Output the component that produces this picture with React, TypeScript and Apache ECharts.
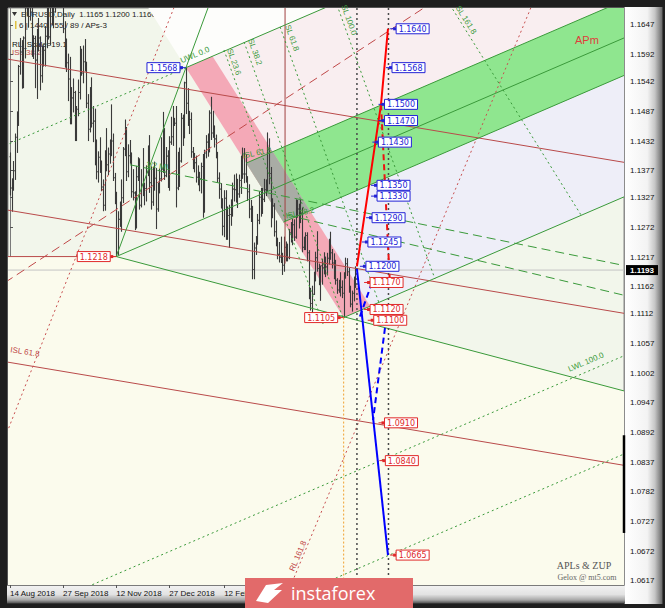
import React, { useEffect, useRef } from "react";
import * as echarts from "echarts";

// EURUSD daily bars, 14 Aug 2018 .. 3 Jun 2019 — [open, high, low, close]
const bars: number[][] = [
  // Aug 2018
  [1.1403, 1.1411, 1.1331, 1.1345], [1.1345, 1.1363, 1.1301, 1.1345], [1.1345, 1.1395, 1.134, 1.1377],
  [1.1377, 1.1446, 1.136, 1.1439], [1.1439, 1.1487, 1.141, 1.1478], [1.1478, 1.1573, 1.146, 1.157],
  [1.157, 1.1623, 1.1555, 1.1597], [1.1597, 1.1619, 1.1529, 1.1538], [1.1538, 1.1626, 1.153, 1.1623],
  [1.1623, 1.1686, 1.1585, 1.1679], [1.1679, 1.1733, 1.1664, 1.17], [1.17, 1.1714, 1.1642, 1.1706],
  [1.1706, 1.1716, 1.1655, 1.1671], [1.1671, 1.168, 1.1588, 1.1602],
  // Sep 2018
  [1.1602, 1.1628, 1.1584, 1.1622], [1.1622, 1.1627, 1.153, 1.1582], [1.1582, 1.164, 1.151, 1.1628],
  [1.1628, 1.166, 1.1598, 1.1623], [1.1623, 1.1626, 1.1526, 1.1553], [1.1553, 1.1609, 1.154, 1.1594],
  [1.1594, 1.1609, 1.157, 1.16], [1.16, 1.1645, 1.157, 1.1626], [1.1626, 1.1701, 1.1604, 1.169],
  [1.169, 1.1722, 1.162, 1.1625], [1.1625, 1.1698, 1.161, 1.1684], [1.1684, 1.1698, 1.1646, 1.1672],
  [1.1672, 1.1701, 1.1641, 1.1671], [1.1671, 1.1788, 1.167, 1.1776], [1.1776, 1.179, 1.1737, 1.1745],
  [1.1745, 1.1815, 1.1734, 1.1748], [1.1748, 1.1796, 1.1724, 1.1765], [1.1765, 1.1797, 1.1719, 1.1739],
  [1.1739, 1.1752, 1.1632, 1.164], [1.164, 1.1654, 1.1568, 1.1604],
  // Oct 2018
  [1.1604, 1.1622, 1.156, 1.1577], [1.1577, 1.1594, 1.1506, 1.1547], [1.1547, 1.1588, 1.1463, 1.1478],
  [1.1478, 1.1532, 1.1463, 1.1512], [1.1512, 1.1548, 1.1485, 1.1522], [1.1522, 1.1525, 1.1432, 1.1489],
  [1.1489, 1.1497, 1.1432, 1.1491], [1.1491, 1.1546, 1.1478, 1.1522], [1.1522, 1.1608, 1.1509, 1.1596],
  [1.1596, 1.1603, 1.1553, 1.1558], [1.1558, 1.1609, 1.1539, 1.1579], [1.1579, 1.1621, 1.1561, 1.1573],
  [1.1573, 1.1579, 1.1493, 1.1502], [1.1502, 1.1519, 1.1432, 1.1454], [1.1454, 1.1532, 1.1448, 1.1515],
  [1.1515, 1.155, 1.1457, 1.1465], [1.1465, 1.1497, 1.143, 1.1469], [1.1469, 1.1492, 1.1387, 1.1391],
  [1.1391, 1.1435, 1.1361, 1.1375], [1.1375, 1.1413, 1.1355, 1.1402], [1.1402, 1.1439, 1.1373, 1.1375],
  [1.1375, 1.1396, 1.1339, 1.1347], [1.1347, 1.1361, 1.1302, 1.1313],
  // Nov 2018
  [1.1313, 1.1415, 1.1303, 1.1406], [1.1406, 1.1456, 1.1376, 1.1388], [1.1388, 1.142, 1.1369, 1.1408],
  [1.1408, 1.1435, 1.139, 1.1428], [1.1428, 1.15, 1.1404, 1.1432], [1.1432, 1.1446, 1.1358, 1.1364],
  [1.1364, 1.1373, 1.1315, 1.1334], [1.1334, 1.1338, 1.1218, 1.1226], [1.1226, 1.1302, 1.1221, 1.1287],
  [1.1287, 1.132, 1.1273, 1.1313], [1.1313, 1.1361, 1.1264, 1.1327], [1.1327, 1.1421, 1.1317, 1.1417],
  [1.1417, 1.1472, 1.1404, 1.1456], [1.1456, 1.1458, 1.1358, 1.1375], [1.1375, 1.1426, 1.1365, 1.1405],
  [1.1405, 1.1434, 1.139, 1.1403], [1.1403, 1.1411, 1.1327, 1.1338], [1.1338, 1.138, 1.1322, 1.1336],
  [1.1336, 1.1339, 1.1267, 1.129], [1.129, 1.1386, 1.127, 1.1366], [1.1366, 1.1402, 1.1358, 1.1393],
  [1.1393, 1.14, 1.1305, 1.1313],
  // Dec 2018
  [1.1313, 1.138, 1.1309, 1.1352], [1.1352, 1.1419, 1.133, 1.1343], [1.1343, 1.1355, 1.1313, 1.1344],
  [1.1344, 1.1387, 1.132, 1.1374], [1.1374, 1.1424, 1.1367, 1.1405], [1.1405, 1.1443, 1.1336, 1.1355],
  [1.1355, 1.1385, 1.1305, 1.1319], [1.1319, 1.1384, 1.1312, 1.1369], [1.1369, 1.1394, 1.134, 1.1363],
  [1.1363, 1.1382, 1.1269, 1.1306], [1.1306, 1.1355, 1.1301, 1.1346], [1.1346, 1.1381, 1.1335, 1.1362],
  [1.1362, 1.1439, 1.1357, 1.138], [1.138, 1.1486, 1.1373, 1.1451], [1.1451, 1.1456, 1.136, 1.1368],
  [1.1368, 1.1421, 1.1365, 1.1404], [1.1404, 1.1415, 1.1345, 1.1352], [1.1352, 1.1441, 1.134, 1.143],
  [1.143, 1.1477, 1.1425, 1.144], [1.144, 1.1497, 1.1423, 1.1467],
  // Jan 2019
  [1.1467, 1.1475, 1.146, 1.1465], [1.1465, 1.1497, 1.1309, 1.1345], [1.1345, 1.1412, 1.1341, 1.1393],
  [1.1393, 1.142, 1.1347, 1.1395], [1.1395, 1.1484, 1.1392, 1.1474], [1.1474, 1.1481, 1.1423, 1.144],
  [1.144, 1.1542, 1.1437, 1.154], [1.154, 1.1568, 1.1482, 1.1502], [1.1502, 1.153, 1.146, 1.1468],
  [1.1468, 1.1488, 1.1445, 1.1472], [1.1472, 1.1485, 1.1401, 1.1412], [1.1412, 1.1421, 1.138, 1.1394],
  [1.1394, 1.141, 1.1374, 1.1392], [1.1392, 1.1405, 1.1355, 1.1365], [1.1365, 1.1387, 1.135, 1.1362],
  [1.1362, 1.1375, 1.1339, 1.1362], [1.1362, 1.1392, 1.1335, 1.1385], [1.1385, 1.1408, 1.129, 1.13],
  [1.13, 1.1416, 1.13, 1.141], [1.141, 1.1443, 1.14, 1.143], [1.143, 1.1446, 1.1403, 1.1431],
  [1.1431, 1.1489, 1.1411, 1.1484], [1.1484, 1.1514, 1.1434, 1.1447],
  // Feb 2019
  [1.1447, 1.1488, 1.1438, 1.1456], [1.1456, 1.1461, 1.142, 1.1436], [1.1436, 1.1444, 1.14, 1.1406],
  [1.1406, 1.1412, 1.1355, 1.1363], [1.1363, 1.1374, 1.1325, 1.1343], [1.1343, 1.1354, 1.1307, 1.1324],
  [1.1324, 1.1326, 1.1257, 1.1274], [1.1274, 1.1341, 1.1254, 1.1326], [1.1326, 1.1341, 1.1249, 1.1265],
  [1.1265, 1.1311, 1.1249, 1.1294], [1.1294, 1.1314, 1.1234, 1.1296], [1.1296, 1.1324, 1.1275, 1.1311],
  [1.1311, 1.1355, 1.1292, 1.1343], [1.1343, 1.137, 1.132, 1.1342], [1.1342, 1.1372, 1.1318, 1.1336],
  [1.1336, 1.1362, 1.1308, 1.1334], [1.1334, 1.137, 1.1327, 1.1359], [1.1359, 1.1405, 1.1334, 1.1395],
  [1.1395, 1.142, 1.1362, 1.1371], [1.1371, 1.1419, 1.1354, 1.1371],
  // Mar 2019
  [1.1371, 1.1408, 1.1355, 1.1363], [1.1363, 1.1367, 1.1321, 1.1338], [1.1338, 1.1352, 1.1289, 1.1306],
  [1.1306, 1.1323, 1.1282, 1.1306], [1.1306, 1.1312, 1.1176, 1.1194], [1.1194, 1.1244, 1.1176, 1.1234],
  [1.1234, 1.1256, 1.1221, 1.1246], [1.1246, 1.1297, 1.124, 1.1285], [1.1285, 1.1339, 1.1278, 1.1328],
  [1.1328, 1.1345, 1.1292, 1.1306], [1.1306, 1.1345, 1.1297, 1.1324], [1.1324, 1.1362, 1.1319, 1.1342],
  [1.1342, 1.1361, 1.133, 1.1351], [1.1351, 1.1448, 1.1338, 1.1417], [1.1417, 1.1437, 1.1352, 1.1372],
  [1.1372, 1.1384, 1.1272, 1.1299], [1.1299, 1.1326, 1.1289, 1.1312], [1.1312, 1.1317, 1.1255, 1.1264],
  [1.1264, 1.1285, 1.1237, 1.1247], [1.1247, 1.1253, 1.1213, 1.1222], [1.1222, 1.1245, 1.1207, 1.1217],
  // Apr 2019
  [1.1217, 1.1255, 1.1206, 1.1216], [1.1216, 1.1225, 1.1184, 1.1202], [1.1202, 1.1255, 1.119, 1.1235],
  [1.1235, 1.1246, 1.1209, 1.122], [1.122, 1.1242, 1.1209, 1.1216], [1.1216, 1.1269, 1.1213, 1.1262],
  [1.1262, 1.1282, 1.1244, 1.1264], [1.1264, 1.1288, 1.1239, 1.1277], [1.1277, 1.1287, 1.1247, 1.1254],
  [1.1254, 1.1324, 1.1251, 1.1301], [1.1301, 1.1323, 1.129, 1.1306], [1.1306, 1.1316, 1.127, 1.1283],
  [1.1283, 1.1324, 1.128, 1.1298], [1.1298, 1.1309, 1.1226, 1.1235], [1.1235, 1.1255, 1.123, 1.1245],
  [1.1245, 1.1263, 1.123, 1.1257], [1.1257, 1.1263, 1.1209, 1.1225], [1.1225, 1.123, 1.1139, 1.1154],
  [1.1154, 1.116, 1.1118, 1.1131], [1.1131, 1.1164, 1.1112, 1.1148], [1.1148, 1.119, 1.1147, 1.1184],
  [1.1184, 1.1227, 1.1172, 1.1216],
  // May 2019
  [1.1216, 1.1265, 1.119, 1.1196], [1.1196, 1.1205, 1.1165, 1.1171], [1.1171, 1.1201, 1.1136, 1.1201],
  [1.1201, 1.1214, 1.1166, 1.1197], [1.1197, 1.1226, 1.1185, 1.1193], [1.1193, 1.1218, 1.118, 1.1199],
  [1.1199, 1.1225, 1.1183, 1.1215], [1.1215, 1.1251, 1.1203, 1.1235], [1.1235, 1.1264, 1.1212, 1.1225],
  [1.1225, 1.1232, 1.1196, 1.1206], [1.1206, 1.1224, 1.1176, 1.1203], [1.1203, 1.1212, 1.1166, 1.1174],
  [1.1174, 1.1178, 1.1149, 1.1156], [1.1156, 1.1175, 1.1151, 1.1163], [1.1163, 1.1189, 1.1144, 1.1161],
  [1.1161, 1.1174, 1.1141, 1.115], [1.115, 1.1189, 1.1105, 1.118], [1.118, 1.1216, 1.1177, 1.1205],
  [1.1205, 1.1215, 1.1182, 1.119], [1.119, 1.1197, 1.1151, 1.116], [1.116, 1.1164, 1.1124, 1.113],
  [1.113, 1.1155, 1.1116, 1.115], [1.115, 1.1181, 1.1135, 1.1169],
  // Jun 2019
  [1.1165, 1.12, 1.116, 1.1193],
];

// time axis labels (bar index -> date)
const dateTickIndex = [0, 32, 64, 96, 129];
const dateTickText = ["14 Aug 2018", "27 Sep 2018", "12 Nov 2018", "27 Dec 2018", "12 Feb 2019"];

// price scale labels
const priceTicks = [
  1.1647, 1.1592, 1.1542, 1.1487, 1.1432, 1.1377, 1.1327, 1.1272, 1.1217, 1.1162,
  1.1112, 1.1057, 1.1002, 1.0947, 1.0892, 1.0837, 1.0782, 1.0727, 1.0672, 1.0617,
];

// pitchfork pivots [bar, price]
const pivot1 = [64, 1.1218];
const pivot2 = [106, 1.1568];
const pivot3 = [201, 1.1105];
const pivotHighs = [pivot2];
const pivotLows = [pivot1, pivot3];

// descending channel (solid red), [bar, price] end points
const channelLines = [
  [[-3, 1.15846], [372, 1.13915]],
  [[-3, 1.13049], [372, 1.11118]],
  [[-3, 1.10233], [372, 1.08302]],
];
const levelLine = [[[-3, 1.1218], [64, 1.1218]]];
const timeMark = [[[165.7, 1.169], [165.7, 1.1205]]];
const redDashLines = [[[-3, 1.117], [251, 1.1682]]];
const redDotLines = [
  [[-3, 1.0883], [99, 1.1681]],
  [[170, 1.0615], [315, 1.1688]],
];

// sliding lines (green dotted) and half-median lines (green dashed)
const slidingLines = [
  [[128.9, 1.16007], [188.6, 1.10931]],
  [[141.0, 1.16155], [200.6, 1.11042]],
  [[162.7, 1.16433], [222.3, 1.1132]],
  [[197.0, 1.16841], [256.0, 1.11765]],
  [[265.1, 1.16841], [344.0, 1.1295]],
];
const halfLines = [
  [[72.3, 1.1388], [369, 1.1202]],
  [[166.9, 1.1295], [369, 1.1147]],
];
const p1Descent = [370, 1.0969];

// ZUP projections
const futureBars = [209, 228];
const zupUp = [[209, 1.12], [223.5, 1.15], [227.7, 1.164]];
const zupUpBack = [[223.5, 1.15], [229, 1.116]];
const zupDown = [[209, 1.1195], [227.7, 1.0665]];
const zupDownBack = [
  [[210.8, 1.1107], [218.1, 1.117]],
  [[225.9, 1.1086], [218.7, 1.0915]],
];
const upTargets = [
  [229, 1.164], [226.5, 1.1568], [222, 1.15], [222, 1.147], [218.3, 1.143],
  [217.5, 1.135], [217.5, 1.133], [214.5, 1.129], [212, 1.1245], [210.8, 1.12],
];
const downTargets = [
  [213.3, 1.117], [213.3, 1.112], [215.5, 1.11], [222, 1.091], [222.5, 1.084], [229, 1.0665],
];
const axisMarker = [[[369.88, 1.0887], [369.88, 1.0706]]];

const forkNotes = [
  { at: [111.4, 1.15914], text: "UWL 0.0", angle: 23 },
  { at: [347.0, 1.10227], text: "LWL 100.0", angle: 23 },
  { at: [89.2, 1.13858], text: "1/2 ML", angle: -8 },
  { at: [148.8, 1.14099], text: "ISL 61.8", angle: 12 },
  { at: [174.7, 1.12987], text: "ISL 38.2", angle: 12 },
  { at: [134.9, 1.15785], text: "SL 23.6", angle: -70 },
  { at: [147.6, 1.1597], text: "SL 38.2", angle: -70 },
  { at: [169.9, 1.16229], text: "SL 61.8", angle: -70 },
  { at: [204.2, 1.16563], text: "SL 100.0", angle: -70 },
  { at: [274.7, 1.16563], text: "SL 161.8", angle: -58 },
];
const channelNotes = [
  { at: [9.0, 1.10412], text: "ISL 61.8", angle: -9 },
  { at: [173.5, 1.06633], text: "RL 161.8", angle: 67 },
];

// ---- scales ----
const X_MIN = -1.205;
const X_MAX = 369.88;
const Y_MIN = 1.060958;
const Y_MAX = 1.167849;
const FAR = 420;

// ---- pitchfork geometry ----
const mid = [(pivot2[0] + pivot3[0]) / 2, (pivot2[1] + pivot3[1]) / 2];
const forkSlope = (mid[1] - pivot1[1]) / (mid[0] - pivot1[0]);
const forkHalf = pivot2[1] - (pivot1[1] + forkSlope * (pivot2[0] - pivot1[0]));
const forkAt = (f: number, i: number) => pivot1[1] + forkSlope * (i - pivot1[0]) + f * forkHalf;
const ctrlAt = (t: number) => [pivot2[0] + t * (pivot3[0] - pivot2[0]), pivot2[1] + t * (pivot3[1] - pivot2[1])];
const startOf = (f: number) => ctrlAt((1 - f) / 2);
const bandLevel = 0.236;
const warningLevels = [-2, -2.618];
const pinkShift = 16;
const shift = (p: number[]) => [p[0] + pinkShift, p[1] + pinkShift * forkSlope];
const farOf = (f: number) => [FAR, forkAt(f, FAR)];

const topEdge = ctrlAt(-0.35);
const topCross = [pivot1[0] + (topEdge[1] - pivot1[1] - forkHalf) / forkSlope, topEdge[1]];
const p1p2Slope = (pivot2[1] - pivot1[1]) / (pivot2[0] - pivot1[0]);
const p1p2Top = [pivot2[0] + (1.169 - pivot2[1]) / p1p2Slope, 1.169];

const zones = [
  { pts: [pivot1, p1Descent, [p1Descent[0], 1.0], [-3, 1.0], [-3, pivot1[1]]], color: "#fbfbed" },
  { pts: [pivot2, topEdge, topCross], color: "#fdfdfb" },
  { pts: [pivot2, farOf(1), farOf(0), mid], color: "#f9eef0" },
  { pts: [mid, farOf(0), farOf(-1), pivot3], color: "#eeeef8" },
  { pts: [startOf(bandLevel), farOf(bandLevel), farOf(-bandLevel), startOf(-bandLevel)], color: "#8fe68f" },
  { pts: [pivot2, shift(pivot2), shift(pivot3), pivot3], color: "#f4a9b7" },
  { pts: [startOf(bandLevel), shift(startOf(bandLevel)), shift(startOf(-bandLevel)), startOf(-bandLevel)], color: "#a9aca5" },
];

const GREEN = "#3a9a3a";
const RED = "#b94a4a";
const FONT = '8px "Liberation Sans"';

const pathSeries = (paths: number[][][], stroke: string, lineWidth: number, lineDash: number[] | null, z: number, clip = true) => ({
  type: "custom",
  silent: true,
  clip,
  z,
  data: paths.map((p) => p.flat()),
  encode: { x: 0, y: 1 },
  renderItem: (params: any, api: any) => {
    const points = paths[params.dataIndex].map((p) => api.coord(p));
    const style: any = { stroke, lineWidth, fill: "none" };
    if (lineDash) style.lineDash = lineDash;
    return { type: "polyline", shape: { points }, style };
  },
});

const tagSeries = (anchors: number[][], color: string, side: "left" | "right", z: number) => ({
  type: "custom",
  silent: true,
  clip: false,
  z,
  data: anchors,
  encode: { x: 0, y: 1 },
  renderItem: (params: any, api: any) => {
    const price = api.value(1);
    const [x, y] = api.coord([api.value(0), price]);
    const w = 33;
    const bx = side === "right" ? x + 6 : x - 6 - w;
    const edge = side === "right" ? bx : bx + w;
    return {
      type: "group",
      children: [
        { type: "line", shape: { x1: x, y1: y, x2: edge, y2: y }, style: { stroke: color, lineWidth: 1 } },
        { type: "rect", shape: { x: side === "right" ? bx - 3 : bx + w, y: y - 1.5, width: 3, height: 3 }, style: { fill: color } },
        { type: "rect", shape: { x: bx, y: y - 5, width: w, height: 10 }, style: { fill: "#ffffff", stroke: color, lineWidth: 1 } },
        {
          type: "text", x: bx + w / 2, y: y + 0.5,
          style: { text: price.toFixed(4), fill: color, font: '8px "DejaVu Sans"', align: "center", verticalAlign: "middle" },
        },
      ],
    };
  },
});

const noteSeries = (notes: { at: number[]; text: string; angle: number }[], color: string, z: number) => ({
  type: "custom",
  silent: true,
  clip: false,
  z,
  data: notes.map((n) => n.at),
  encode: { x: 0, y: 1 },
  renderItem: (params: any, api: any) => {
    const n = notes[params.dataIndex];
    const [x, y] = api.coord(n.at);
    return {
      type: "text", x, y, rotation: (n.angle * Math.PI) / 180,
      style: { text: n.text, fill: color, font: FONT, align: "center", verticalAlign: "middle" },
    };
  },
});

function buildOption() {
  const last = bars[bars.length - 1];
  const lastClose = last[3];
  const headline = "EURUSD,Daily  " + last.map((v) => v.toFixed(4)).join(" ");

  const series: any[] = [
    {
      type: "custom", silent: true, clip: true, z: 1,
      data: zones.map((_, k) => [k]),
      encode: { x: 0, y: 0 },
      renderItem: (params: any, api: any) => {
        const zone = zones[params.dataIndex];
        return { type: "polygon", shape: { points: zone.pts.map((p) => api.coord(p)) }, style: { fill: zone.color } };
      },
    },
    {
      type: "custom", silent: true, clip: true, z: 3,
      data: bars.map((b, i) => [i, ...b]),
      encode: { x: 0, y: [1, 2, 3, 4] },
      renderItem: (params: any, api: any) => {
        const i = api.value(0);
        const o = api.coord([i, api.value(1)]);
        const h = api.coord([i, api.value(2)]);
        const l = api.coord([i, api.value(3)]);
        const c = api.coord([i, api.value(4)]);
        const x = Math.round(o[0]) + 0.5;
        const st = { stroke: "#3a3a3a", lineWidth: 1.1 };
        return {
          type: "group",
          children: [
            { type: "line", shape: { x1: x, y1: h[1], x2: x, y2: l[1] }, style: st },
            { type: "line", shape: { x1: x - 1, y1: o[1], x2: x, y2: o[1] }, style: st },
            { type: "line", shape: { x1: x, y1: c[1], x2: x + 1, y2: c[1] }, style: st },
          ],
        };
      },
    },
    // current price line
    pathSeries([[[-3, lastClose], [FAR, lastClose]]], "#c4c4c4", 1, null, 2),
    // red channel
    pathSeries(channelLines, RED, 1, null, 4),
    pathSeries(levelLine, RED, 1, null, 4),
    pathSeries(timeMark, "#a04040", 1, null, 4),
    pathSeries(redDashLines, "#c04848", 1, [9, 5], 4),
    pathSeries(redDotLines, "#c85050", 1, [2, 3], 4),
    // pitchfork (green)
    pathSeries(
      [
        [pivot1, farOf(0)],
        [pivot2, farOf(1)],
        [pivot3, farOf(-1)],
        [startOf(bandLevel), farOf(bandLevel)],
        [startOf(-bandLevel), farOf(-bandLevel)],
        [pivot1, p1p2Top],
        [pivot1, p1Descent],
      ],
      GREEN, 1, null, 4
    ),
    pathSeries(
      [[[-3, forkAt(1, -3)], pivot2], ...warningLevels.map((f) => [[-3, forkAt(f, -3)], farOf(f)])],
      GREEN, 1, [2, 3], 4
    ),
    pathSeries(slidingLines, GREEN, 1, [2, 3], 4),
    pathSeries(halfLines, GREEN, 1, [9, 5], 4),
    // projection time lines
    pathSeries(futureBars.map((b) => [[b, Y_MAX], [b, Y_MIN]]), "#4a4a4a", 1.5, [2, 3], 4),
    pathSeries([[pivot3, [pivot3[0], Y_MIN]]], "#f0a030", 1, [2, 2], 4),
    // ZUP
    pathSeries([zupUp], "#ff0000", 2, null, 5),
    pathSeries([zupUpBack], "#ee1111", 2, [6, 4], 5),
    pathSeries([zupDown], "#0000ff", 2, null, 5),
    pathSeries(zupDownBack, "#0000ff", 2, [6, 4], 5),
    // labels
    tagSeries(upTargets, "#2323d6", "right", 6),
    tagSeries(downTargets, "#e02a2a", "right", 6),
    tagSeries(pivotHighs, "#2323d6", "left", 6),
    tagSeries(pivotLows, "#e02a2a", "left", 6),
    noteSeries(forkNotes, GREEN, 5),
    noteSeries(channelNotes, "#c04848", 5),
    pathSeries(axisMarker, "#000000", 2.5, null, 7, false),
    {
      type: "custom", silent: true, clip: false, z: 8,
      data: [[X_MAX, lastClose]],
      encode: { x: 0, y: 1 },
      renderItem: (params: any, api: any) => {
        const [x, y] = api.coord([api.value(0), api.value(1)]);
        return {
          type: "group",
          children: [
            { type: "rect", shape: { x: x + 2, y: y - 5, width: 32, height: 10 }, style: { fill: "#000000" } },
            {
              type: "text", x: x + 18, y: y + 0.5,
              style: { text: api.value(1).toFixed(4), fill: "#ffffff", font: 'bold 8px "Liberation Sans"', align: "center", verticalAlign: "middle" },
            },
          ],
        };
      },
    },
  ];

  const frameRight = {
    type: "rect", z: -5, silent: true,
    shape: { x: 624.5, y: 7, width: 38, height: 597 },
    style: {
      fill: {
        type: "linear", x: 0, y: 0, x2: 1, y2: 0,
        colorStops: [
          { offset: 0, color: "#ffffff" }, { offset: 0.6, color: "#f3f3f3" },
          { offset: 0.8, color: "#c6c6c6" }, { offset: 1, color: "#666666" },
        ],
      },
    },
  };
  const frameBottom = {
    type: "rect", z: -5, silent: true,
    shape: { x: 7, y: 585.5, width: 618, height: 18 },
    style: {
      fill: {
        type: "linear", x: 0, y: 0, x2: 0, y2: 1,
        colorStops: [
          { offset: 0, color: "#f2f2f2" }, { offset: 0.5, color: "#e2e2e2" },
          { offset: 0.8, color: "#a8a8a8" }, { offset: 1, color: "#4a4a4a" },
        ],
      },
    },
  };

  const graphic: any[] = [
    frameRight,
    frameBottom,
    { type: "polygon", z: 1, silent: true, shape: { points: [[12, 12], [17, 12], [14.5, 16]] }, style: { fill: "#333" } },
    { type: "text", z: 1, silent: true, x: 21, y: 14, style: { text: headline, fill: "#222", font: FONT, verticalAlign: "middle" } },
    { type: "rect", z: 1, silent: true, shape: { x: 15, y: 21, width: 1.5, height: 8 }, style: { fill: "#e0c040" } },
    { type: "text", z: 1, silent: true, x: 19, y: 25, style: { text: "6 | 1440 / 55 / 89 / APs-3", fill: "#222", font: FONT, verticalAlign: "middle" } },
    { type: "text", z: 1, silent: true, x: 12, y: 44, style: { text: "RL_Scale=19.1", fill: "#111", font: FONT, verticalAlign: "middle" } },
    { type: "text", z: 1, silent: true, x: 12, y: 52, style: { text: "ISL 38.2", fill: "#c04848", font: FONT, verticalAlign: "middle" } },
    { type: "text", z: 6, silent: true, x: 575, y: 40, style: { text: "APm", fill: "#e03c3c", font: '11px "Liberation Sans"', verticalAlign: "middle" } },
    { type: "text", z: 6, silent: true, x: 584, y: 565, style: { text: "APLs & ZUP", fill: "#555", font: '10px "Liberation Serif"', align: "center", verticalAlign: "middle" } },
    { type: "text", z: 6, silent: true, x: 587, y: 577, style: { text: "Gelox @ mt5.com", fill: "#666", font: '8px "Liberation Serif"', align: "center", verticalAlign: "middle" } },
    // banner
    { type: "rect", z: 20, silent: true, shape: { x: 245, y: 578, width: 168, height: 30 }, style: { fill: "#e26a6a" } },
    { type: "polygon", z: 21, silent: true, shape: { points: [[256, 601], [266, 585], [283, 583], [274, 590], [282, 590], [268, 603]] }, style: { fill: "#ffffff" } },
    { type: "text", z: 21, silent: true, x: 291, y: 593, style: { text: "instaforex", fill: "#ffffff", font: '18px "Open Sans"', verticalAlign: "middle" } },
  ];

  return {
    animation: false,
    backgroundColor: "#1e1e1e",
    grid: { left: 8, top: 8, width: 616, height: 577, show: true, backgroundColor: "#f2f6eb", borderColor: "#8a8a8a", borderWidth: 1 },
    xAxis: {
      type: "value", min: X_MIN, max: X_MAX,
      splitLine: { show: false },
      axisLine: { show: true, lineStyle: { color: "#7a7a7a" } },
      axisTick: { show: true, customValues: dateTickIndex, length: 3, lineStyle: { color: "#555" } },
      axisLabel: {
        customValues: dateTickIndex, align: "left", margin: 4, color: "#111", fontSize: 8, fontFamily: "Liberation Sans",
        formatter: (v: number) => dateTickText[dateTickIndex.indexOf(Math.round(v))] ?? "",
      },
    },
    yAxis: {
      type: "value", position: "right", min: Y_MIN, max: Y_MAX, scale: true,
      splitLine: { show: false },
      axisLine: { show: true, lineStyle: { color: "#7a7a7a" } },
      axisTick: { show: true, customValues: priceTicks, length: 3, lineStyle: { color: "#555" } },
      axisLabel: {
        customValues: priceTicks, margin: 6, color: "#111", fontSize: 8, fontFamily: "Liberation Sans",
        formatter: (v: number) => v.toFixed(4),
      },
    },
    graphic,
    series,
  };
}

export default function App() {
  const ref = useRef<HTMLDivElement>(null);
  useEffect(() => {
    const chart = echarts.init(ref.current!, null, { renderer: "svg" });
    chart.setOption(buildOption() as any);
    return () => chart.dispose();
  }, []);
  return (
    <div
      ref={ref}
      style={{ position: "fixed", left: 0, top: 0, width: 665, height: 608, background: "#1e1e1e" }}
    />
  );
}
